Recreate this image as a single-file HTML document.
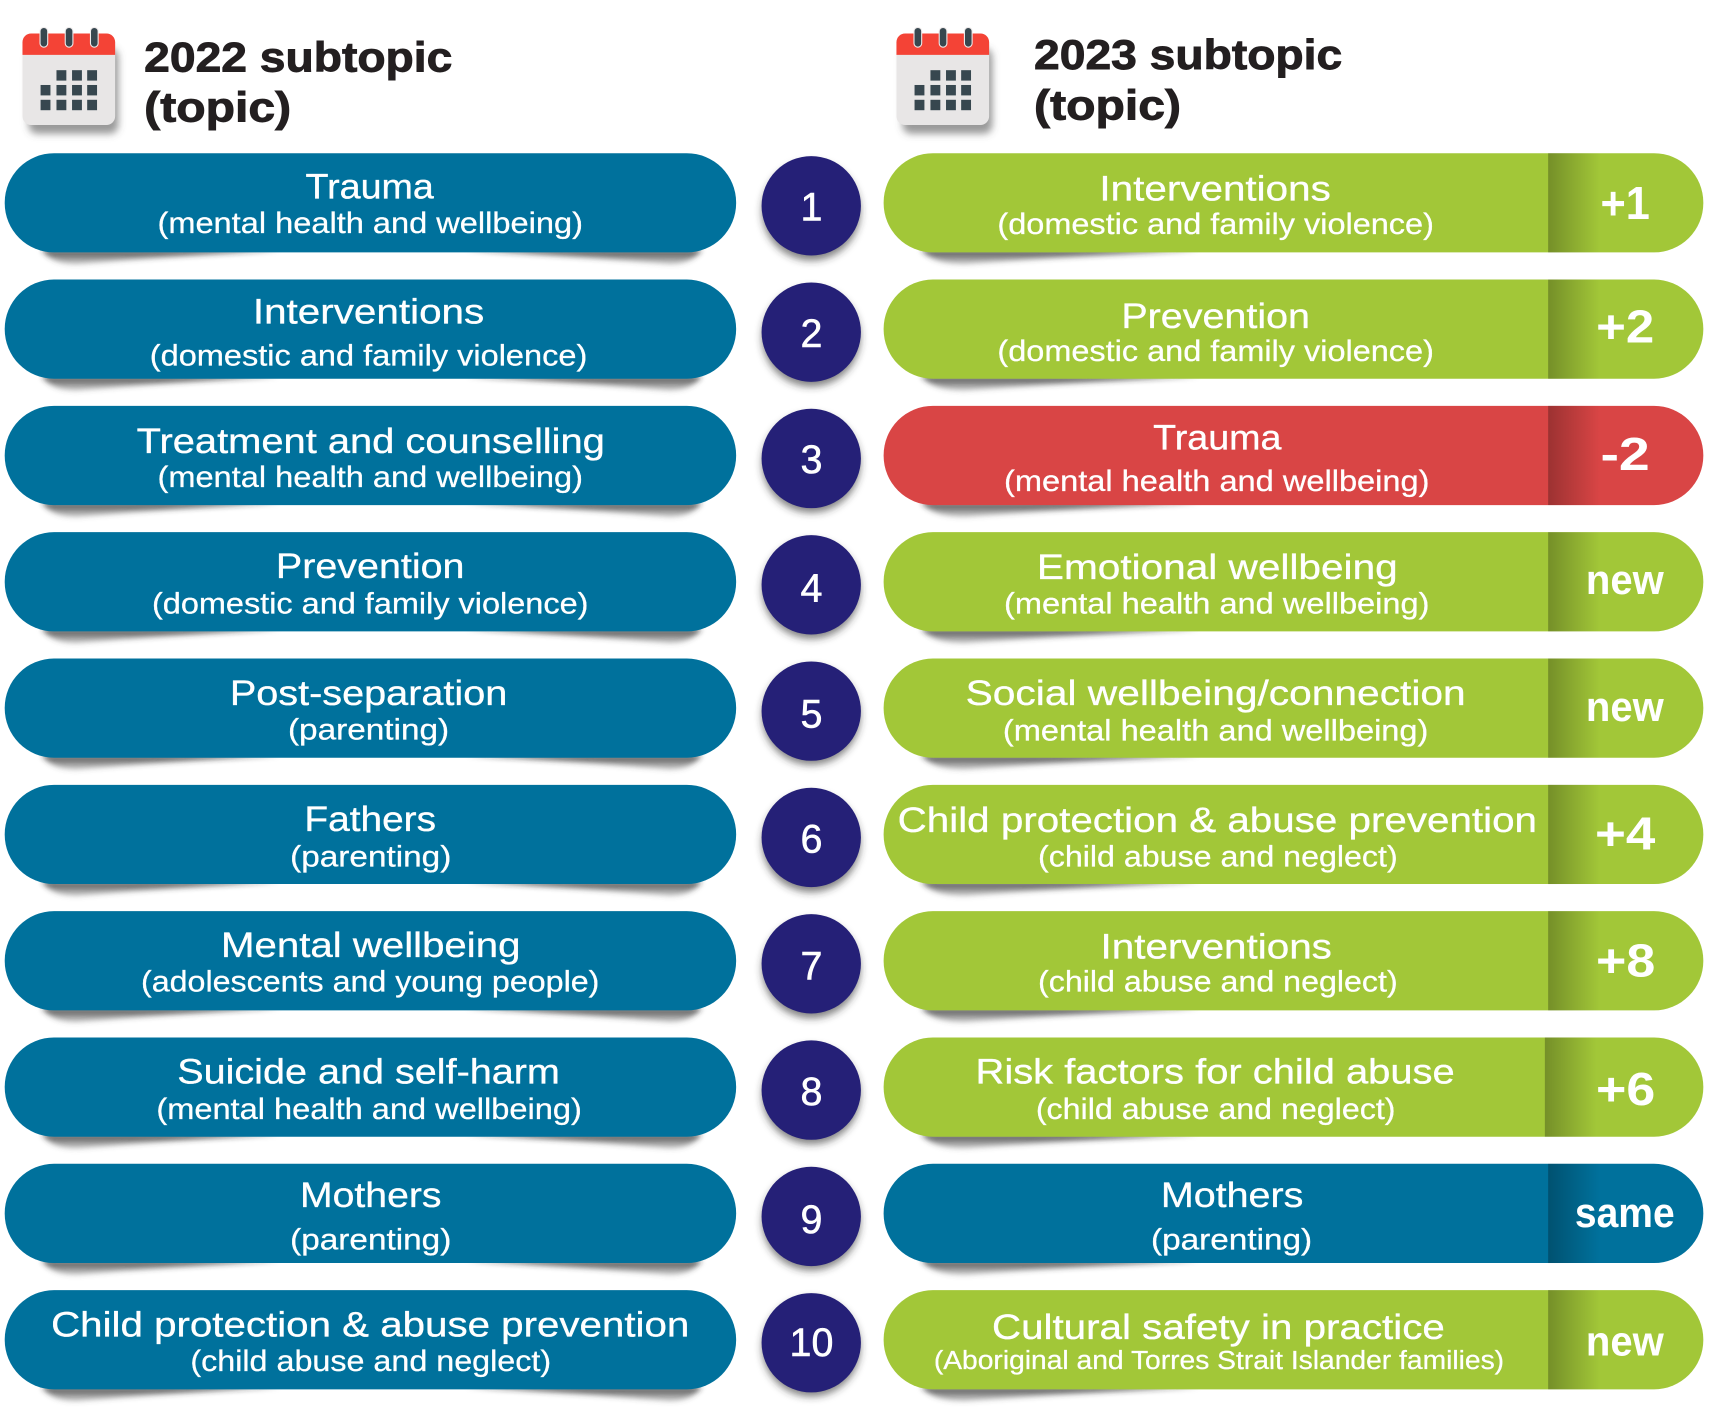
<!DOCTYPE html>
<html lang="en">
<head>
<meta charset="utf-8">
<title>2022 and 2023 subtopics</title>
<style>
html,body{margin:0;padding:0;background:#fff;width:1719px;height:1417px;overflow:hidden}
svg{display:block}
text{font-family:"Liberation Sans",sans-serif}
.t{fill:#fff;font-size:32px;stroke:#fff;stroke-width:.3px;transform:translate(-.4px,-.1px)}
.s{fill:#fff;font-size:27px;stroke:#fff;stroke-width:.25px;transform:translate(-.4px,.3px)}
.n{fill:#fff;font-size:36px;text-anchor:middle;stroke:#fff;stroke-width:.5px;transform:translateY(.3px)}
.b{fill:#fff;font-size:42px;font-weight:700;transform:translateY(.7px)}
.w{fill:#fff;font-size:38px;font-weight:700;transform:translate(-.8px,.5px)}
.h{fill:#231f20;font-size:38px;font-weight:700;stroke:#231f20;stroke-width:.8px}
.blue{fill:#00719c}.green{fill:#a2c738}.red{fill:#d94545}
.sh{fill:url(#shadow-fade);filter:url(#blur)}
.cs{fill:#333;fill-opacity:.6;filter:url(#blur2)}
.c{fill:#252077}
.ov{fill:url(#fold)}
rect.blue,rect.green,rect.red,.ov,.c,.cs{transform:translate(-.2px,-.3px)}
</style>
</head>
<body>
<svg xmlns="http://www.w3.org/2000/svg" width="1719" height="1417" viewBox="0 0 1567.6 1292.2">
<defs>
<filter id="blur" x="-10%" y="-100%" width="120%" height="300%"><feGaussianBlur stdDeviation="2.4"/></filter>
<filter id="blur2" x="-30%" y="-30%" width="160%" height="160%"><feGaussianBlur stdDeviation="3.5"/></filter>
<linearGradient id="fold" x1="0" x2="1" y1="0" y2="0"><stop offset="0" stop-color="#000" stop-opacity=".28"/><stop offset="1" stop-color="#000" stop-opacity="0"/></linearGradient>
<linearGradient id="shadow-fade" x1="0" x2="0" y1="0" y2="1"><stop offset="0" stop-color="#222" stop-opacity=".85"/><stop offset="1" stop-color="#555" stop-opacity=".3"/></linearGradient>
<g id="shadow-pair">
<path class="sh" d="M38 88L255 88Q130 95 70 101Q48 101 38 88z"/>
<path class="sh" d="M640 88L425 88Q550 95 610 101Q630 101 640 88z"/>
<path class="sh" d="M840 88H1094Q950 95 880 101Q852 101 840 88z"/>
</g>
</defs>

<g>
<rect x="26" y="44" width="82" height="78" rx="8" fill="#555" fill-opacity=".6" filter="url(#blur2)"/>
<rect x="20.5" y="30.5" width="84.5" height="83.5" rx="8" fill="#e8e6e6"/>
<path d="M20.5 50V38.5a8 8 0 0 1 8-8H97a8 8 0 0 1 8 8V50z" fill="#f44336"/>
<g fill="#37474f" stroke="#eeeaea" stroke-width="1"><rect x="36.5" y="25" width="7" height="18" rx="3.5"/><rect x="59.5" y="25" width="7" height="18" rx="3.5"/><rect x="82.5" y="25" width="7" height="18" rx="3.5"/></g>
<g fill="#37474f"><rect x="51.5" y="64" width="9" height="9.5"/><rect x="65.7" y="64" width="9" height="9.5"/><rect x="79.5" y="64" width="9" height="9.5"/><rect x="37" y="77.5" width="9" height="9.5"/><rect x="51.5" y="77.5" width="9" height="9.5"/><rect x="65.7" y="77.5" width="9" height="9.5"/><rect x="79.5" y="77.5" width="9" height="9.5"/><rect x="37" y="91" width="9" height="9.5"/><rect x="51.5" y="91" width="9" height="9.5"/><rect x="65.7" y="91" width="9" height="9.5"/><rect x="79.5" y="91" width="9" height="9.5"/></g>
</g>
<g transform="translate(797 0)">
<rect x="26" y="44" width="82" height="78" rx="8" fill="#555" fill-opacity=".6" filter="url(#blur2)"/>
<rect x="20.5" y="30.5" width="84.5" height="83.5" rx="8" fill="#e8e6e6"/>
<path d="M20.5 50V38.5a8 8 0 0 1 8-8H97a8 8 0 0 1 8 8V50z" fill="#f44336"/>
<g fill="#37474f" stroke="#eeeaea" stroke-width="1"><rect x="36.5" y="25" width="7" height="18" rx="3.5"/><rect x="59.5" y="25" width="7" height="18" rx="3.5"/><rect x="82.5" y="25" width="7" height="18" rx="3.5"/></g>
<g fill="#37474f"><rect x="51.5" y="64" width="9" height="9.5"/><rect x="65.7" y="64" width="9" height="9.5"/><rect x="79.5" y="64" width="9" height="9.5"/><rect x="37" y="77.5" width="9" height="9.5"/><rect x="51.5" y="77.5" width="9" height="9.5"/><rect x="65.7" y="77.5" width="9" height="9.5"/><rect x="79.5" y="77.5" width="9" height="9.5"/><rect x="37" y="91" width="9" height="9.5"/><rect x="51.5" y="91" width="9" height="9.5"/><rect x="65.7" y="91" width="9" height="9.5"/><rect x="79.5" y="91" width="9" height="9.5"/></g>
</g>

<text class="h" x="131.5" y="65" textLength="281" lengthAdjust="spacingAndGlyphs">2022 subtopic</text>
<text class="h" x="131.5" y="111" textLength="134" lengthAdjust="spacingAndGlyphs">(topic)</text>
<text class="h" x="943" y="63" textLength="281" lengthAdjust="spacingAndGlyphs">2023 subtopic</text>
<text class="h" x="943" y="109" textLength="134" lengthAdjust="spacingAndGlyphs">(topic)</text>

<!-- Row 1 -->
<g>
<use href="#shadow-pair" transform="translate(0 140)"/>
<rect class="blue" x="4.5" y="140" width="667" height="90.5" rx="45"/>
<text class="t" x="279" y="181" textLength="117" lengthAdjust="spacingAndGlyphs">Trauma</text>
<text class="s" x="144" y="212" textLength="388" lengthAdjust="spacingAndGlyphs">(mental health and wellbeing)</text>
<circle class="cs" cx="740" cy="193" r="45"/>
<circle class="c" cx="740" cy="188" r="45.3"/>
<text class="n" x="740" y="201">1</text>
<rect class="green" x="806" y="140" width="747.5" height="90.5" rx="45"/>
<rect class="ov" x="1412" y="140" width="47" height="90.5"/>
<text class="t" x="1003" y="183" textLength="211" lengthAdjust="spacingAndGlyphs">Interventions</text>
<text class="s" x="910" y="213" textLength="398" lengthAdjust="spacingAndGlyphs">(domestic and family violence)</text>
<text class="b" x="1459.5" y="199" textLength="45" lengthAdjust="spacingAndGlyphs">+1</text>
</g>

<!-- Row 2 -->
<g>
<use href="#shadow-pair" transform="translate(0 255.2)"/>
<rect class="blue" x="4.5" y="255.2" width="667" height="90.5" rx="45"/>
<text class="t" x="231" y="295" textLength="211" lengthAdjust="spacingAndGlyphs">Interventions</text>
<text class="s" x="137" y="333" textLength="399" lengthAdjust="spacingAndGlyphs">(domestic and family violence)</text>
<circle class="cs" cx="740" cy="308" r="45"/>
<circle class="c" cx="740" cy="303.2" r="45.3"/>
<text class="n" x="740" y="316">2</text>
<rect class="green" x="806" y="255.2" width="747.5" height="90.5" rx="45"/>
<rect class="ov" x="1412" y="255.2" width="47" height="90.5"/>
<text class="t" x="1023" y="299" textLength="172" lengthAdjust="spacingAndGlyphs">Prevention</text>
<text class="s" x="910" y="329" textLength="398" lengthAdjust="spacingAndGlyphs">(domestic and family violence)</text>
<text class="b" x="1455.5" y="311.5" textLength="53" lengthAdjust="spacingAndGlyphs">+2</text>
</g>

<!-- Row 3 -->
<g>
<use href="#shadow-pair" transform="translate(0 370.4)"/>
<rect class="blue" x="4.5" y="370.4" width="667" height="90.5" rx="45"/>
<text class="t" x="125" y="413" textLength="427" lengthAdjust="spacingAndGlyphs">Treatment and counselling</text>
<text class="s" x="144" y="444" textLength="388" lengthAdjust="spacingAndGlyphs">(mental health and wellbeing)</text>
<circle class="cs" cx="740" cy="423" r="45"/>
<circle class="c" cx="740" cy="418.4" r="45.3"/>
<text class="n" x="740" y="431">3</text>
<rect class="red" x="806" y="370.4" width="747.5" height="90.5" rx="45"/>
<rect class="ov" x="1412" y="370.4" width="47" height="90.5"/>
<text class="t" x="1052" y="410" textLength="117" lengthAdjust="spacingAndGlyphs">Trauma</text>
<text class="s" x="916" y="447.5" textLength="388" lengthAdjust="spacingAndGlyphs">(mental health and wellbeing)</text>
<text class="b" x="1459.5" y="428" textLength="45" lengthAdjust="spacingAndGlyphs">-2</text>
</g>

<!-- Row 4 -->
<g>
<use href="#shadow-pair" transform="translate(0 485.6)"/>
<rect class="blue" x="4.5" y="485.6" width="667" height="90.5" rx="45"/>
<text class="t" x="252" y="527" textLength="172" lengthAdjust="spacingAndGlyphs">Prevention</text>
<text class="s" x="139" y="559" textLength="398" lengthAdjust="spacingAndGlyphs">(domestic and family violence)</text>
<circle class="cs" cx="740" cy="538" r="45"/>
<circle class="c" cx="740" cy="533.6" r="45.3"/>
<text class="n" x="740" y="548">4</text>
<rect class="green" x="806" y="485.6" width="747.5" height="90.5" rx="45"/>
<rect class="ov" x="1412" y="485.6" width="47" height="90.5"/>
<text class="t" x="946" y="528" textLength="329" lengthAdjust="spacingAndGlyphs">Emotional wellbeing</text>
<text class="s" x="916" y="559" textLength="388" lengthAdjust="spacingAndGlyphs">(mental health and wellbeing)</text>
<text class="w" x="1447" y="541" textLength="71" lengthAdjust="spacingAndGlyphs">new</text>
</g>

<!-- Row 5 -->
<g>
<use href="#shadow-pair" transform="translate(0 600.8)"/>
<rect class="blue" x="4.5" y="600.8" width="667" height="90.5" rx="45"/>
<text class="t" x="210" y="643" textLength="253" lengthAdjust="spacingAndGlyphs">Post-separation</text>
<text class="s" x="263" y="674" textLength="147" lengthAdjust="spacingAndGlyphs">(parenting)</text>
<circle class="cs" cx="740" cy="653" r="45"/>
<circle class="c" cx="740" cy="648.8" r="45.3"/>
<text class="n" x="740" y="663">5</text>
<rect class="green" x="806" y="600.8" width="747.5" height="90.5" rx="45"/>
<rect class="ov" x="1412" y="600.8" width="47" height="90.5"/>
<text class="t" x="881" y="643" textLength="456" lengthAdjust="spacingAndGlyphs">Social wellbeing/connection</text>
<text class="s" x="915" y="675" textLength="388" lengthAdjust="spacingAndGlyphs">(mental health and wellbeing)</text>
<text class="w" x="1447" y="657" textLength="71" lengthAdjust="spacingAndGlyphs">new</text>
</g>

<!-- Row 6 -->
<g>
<use href="#shadow-pair" transform="translate(0 716)"/>
<rect class="blue" x="4.5" y="716" width="667" height="90.5" rx="45"/>
<text class="t" x="278" y="758" textLength="120" lengthAdjust="spacingAndGlyphs">Fathers</text>
<text class="s" x="265" y="790" textLength="147" lengthAdjust="spacingAndGlyphs">(parenting)</text>
<circle class="cs" cx="740" cy="769" r="45"/>
<circle class="c" cx="740" cy="764" r="45.3"/>
<text class="n" x="740" y="777">6</text>
<rect class="green" x="806" y="716" width="747.5" height="90.5" rx="45"/>
<rect class="ov" x="1412" y="716" width="47" height="90.5"/>
<text class="t" x="819" y="759" textLength="583" lengthAdjust="spacingAndGlyphs">Child protection &amp; abuse prevention</text>
<text class="s" x="947" y="790" textLength="328" lengthAdjust="spacingAndGlyphs">(child abuse and neglect)</text>
<text class="b" x="1454.5" y="774" textLength="55" lengthAdjust="spacingAndGlyphs">+4</text>
</g>

<!-- Row 7 -->
<g>
<use href="#shadow-pair" transform="translate(0 831.2)"/>
<rect class="blue" x="4.5" y="831.2" width="667" height="90.5" rx="45"/>
<text class="t" x="202" y="873" textLength="273" lengthAdjust="spacingAndGlyphs">Mental wellbeing</text>
<text class="s" x="129" y="904" textLength="418" lengthAdjust="spacingAndGlyphs">(adolescents and young people)</text>
<circle class="cs" cx="740" cy="884" r="45"/>
<circle class="c" cx="740" cy="879.2" r="45.3"/>
<text class="n" x="740" y="893">7</text>
<rect class="green" x="806" y="831.2" width="747.5" height="90.5" rx="45"/>
<rect class="ov" x="1412" y="831.2" width="47" height="90.5"/>
<text class="t" x="1004" y="874" textLength="211" lengthAdjust="spacingAndGlyphs">Interventions</text>
<text class="s" x="947" y="904" textLength="328" lengthAdjust="spacingAndGlyphs">(child abuse and neglect)</text>
<text class="b" x="1455.5" y="890" textLength="54" lengthAdjust="spacingAndGlyphs">+8</text>
</g>

<!-- Row 8 -->
<g>
<use href="#shadow-pair" transform="translate(0 946.4)"/>
<rect class="blue" x="4.5" y="946.4" width="667" height="90.5" rx="45"/>
<text class="t" x="162" y="988" textLength="349" lengthAdjust="spacingAndGlyphs">Suicide and self-harm</text>
<text class="s" x="143" y="1020" textLength="388" lengthAdjust="spacingAndGlyphs">(mental health and wellbeing)</text>
<circle class="cs" cx="740" cy="999" r="45"/>
<circle class="c" cx="740" cy="994.4" r="45.3"/>
<text class="n" x="740" y="1007.5">8</text>
<rect class="green" x="806" y="946.4" width="747.5" height="90.5" rx="45"/>
<rect class="ov" x="1409" y="946.4" width="47" height="90.5"/>
<text class="t" x="890" y="988" textLength="437" lengthAdjust="spacingAndGlyphs">Risk factors for child abuse</text>
<text class="s" x="945" y="1020" textLength="328" lengthAdjust="spacingAndGlyphs">(child abuse and neglect)</text>
<text class="b" x="1455.5" y="1007" textLength="54" lengthAdjust="spacingAndGlyphs">+6</text>
</g>

<!-- Row 9 -->
<g>
<use href="#shadow-pair" transform="translate(0 1061.6)"/>
<rect class="blue" x="4.5" y="1061.6" width="667" height="90.5" rx="45"/>
<text class="t" x="274" y="1101" textLength="129" lengthAdjust="spacingAndGlyphs">Mothers</text>
<text class="s" x="265" y="1139" textLength="147" lengthAdjust="spacingAndGlyphs">(parenting)</text>
<circle class="cs" cx="740" cy="1114" r="45"/>
<circle class="c" cx="740" cy="1109.6" r="45.3"/>
<text class="n" x="740" y="1124">9</text>
<rect class="blue" x="806" y="1061.6" width="747.5" height="90.5" rx="45"/>
<rect class="ov" x="1412" y="1061.6" width="47" height="90.5"/>
<text class="t" x="1059" y="1101" textLength="130" lengthAdjust="spacingAndGlyphs">Mothers</text>
<text class="s" x="1050" y="1139" textLength="147" lengthAdjust="spacingAndGlyphs">(parenting)</text>
<text class="w" x="1437" y="1118.5" textLength="91" lengthAdjust="spacingAndGlyphs">same</text>
</g>

<!-- Row 10 -->
<g>
<use href="#shadow-pair" transform="translate(0 1176.8)"/>
<rect class="blue" x="4.5" y="1176.8" width="667" height="90.5" rx="45"/>
<text class="t" x="47" y="1219" textLength="582" lengthAdjust="spacingAndGlyphs">Child protection &amp; abuse prevention</text>
<text class="s" x="174" y="1250" textLength="329" lengthAdjust="spacingAndGlyphs">(child abuse and neglect)</text>
<circle class="cs" cx="740" cy="1229" r="45"/>
<circle class="c" cx="740" cy="1224.8" r="45.3"/>
<text class="n" x="740" y="1236.5">10</text>
<rect class="green" x="806" y="1176.8" width="747.5" height="90.5" rx="45"/>
<rect class="ov" x="1412" y="1176.8" width="47" height="90.5"/>
<text class="t" x="905" y="1221" textLength="413" lengthAdjust="spacingAndGlyphs">Cultural safety in practice</text>
<text class="s" x="852" y="1248" style="font-size:23.5px" textLength="520" lengthAdjust="spacingAndGlyphs">(Aboriginal and Torres Strait Islander families)</text>
<text class="w" x="1447" y="1235.5" textLength="71" lengthAdjust="spacingAndGlyphs">new</text>
</g>
</svg>
</body>
</html>
